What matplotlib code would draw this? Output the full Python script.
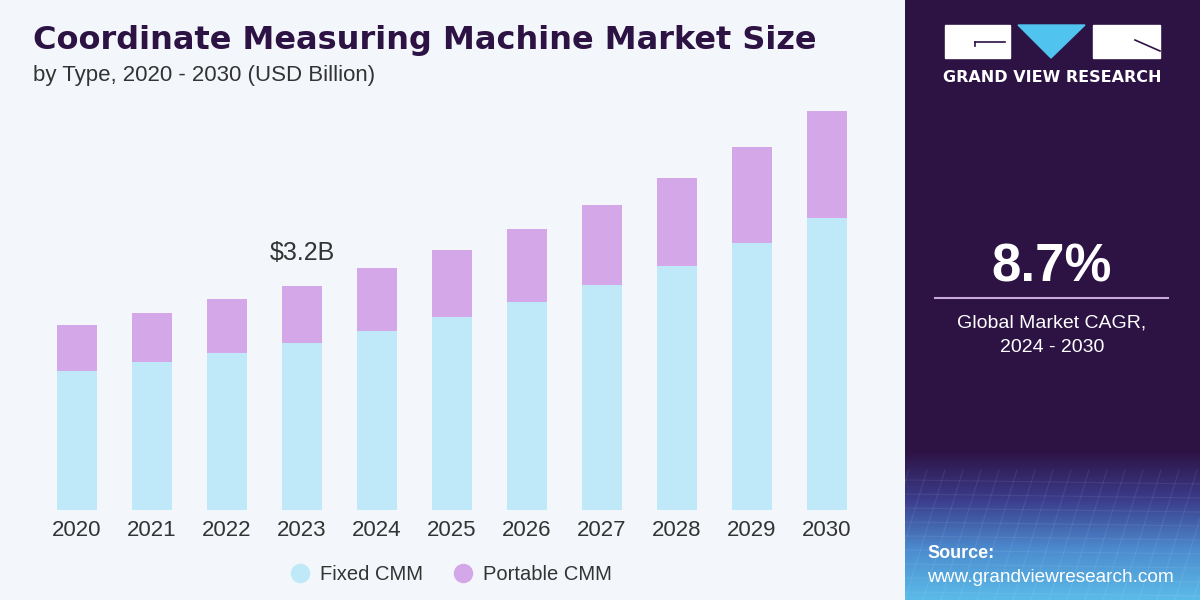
import matplotlib
matplotlib.use("Agg")
import matplotlib.pyplot as plt
import numpy as np
from matplotlib.patches import Rectangle, Polygon
from matplotlib.lines import Line2D
from matplotlib.colors import LinearSegmentedColormap

years = ["2020", "2021", "2022", "2023", "2024", "2025", "2026", "2027", "2028", "2029", "2030"]
fixed_cmm = [1.99, 2.11, 2.24, 2.39, 2.56, 2.76, 2.97, 3.21, 3.49, 3.81, 4.17]
portable_cmm = [0.65, 0.70, 0.77, 0.81, 0.90, 0.95, 1.04, 1.15, 1.25, 1.38, 1.53]
highlight_label = "$3.2B"
highlight_index = 3
cagr_text = "8.7%"

W, H = 1200, 600
fig = plt.figure(figsize=(12, 6), dpi=100)
bg = "#f3f7fb"
fig.patch.set_facecolor(bg)

def fx(px):
    return px / W

def fy(py):
    return 1 - py / H

# Right panel
panel = fig.add_axes([fx(905), 0, fx(295), 1])
panel.axis("off")
panel.add_patch(Rectangle((0, 0), 295, 600, color="#2d1244", zorder=0))
grad = np.linspace(0, 1, 200).reshape(-1, 1)
cmap = LinearSegmentedColormap.from_list("g", ["#2d1244", "#3b3d8c", "#4c8ccf", "#5bbbe8"])
panel.imshow(grad, cmap=cmap, extent=[0, 295, 600, 450], aspect="auto", zorder=1)
for k in range(-10, 30):
    panel.plot([k * 18, k * 18 + 40], [600, 470], color="white", alpha=0.08, lw=0.8, zorder=2)
for yy in range(480, 600, 14):
    panel.plot([0, 295], [yy, yy + 4], color="white", alpha=0.07, lw=0.8, zorder=2)
panel.set_xlim(0, 295)
panel.set_ylim(600, 0)

# Logo
panel.add_patch(Rectangle((40, 25), 65, 33, color="white", zorder=3))
panel.add_patch(Rectangle((188, 25), 67, 33, color="white", zorder=3))
panel.add_patch(Polygon([[113, 25], [180, 25], [146, 58]], closed=True, color="#50c3ef", zorder=3))
panel.plot([70, 100], [42, 42], color="#2d1244", lw=1.2, zorder=4)
panel.plot([70, 70], [42, 46], color="#2d1244", lw=1.2, zorder=4)
panel.plot([230, 255], [40, 51], color="#2d1244", lw=1.2, zorder=4)
panel.text(147.5, 78, "GRAND VIEW RESEARCH", color="white", fontsize=11.5, fontweight="bold",
           ha="center", va="center", family="DejaVu Sans", zorder=4)

panel.text(147, 268, cagr_text, color="white", fontsize=38, fontweight="bold",
           ha="center", va="center", family="Liberation Sans", zorder=4)
panel.plot([30, 263], [298, 298], color="#c9a8e0", lw=1.5, zorder=4)
panel.text(147, 323, "Global Market CAGR,", color="white", fontsize=14,
           ha="center", va="center", family="Liberation Sans", zorder=4)
panel.text(147, 348, "2024 - 2030", color="white", fontsize=14,
           ha="center", va="center", family="Liberation Sans", zorder=4)
panel.text(22, 553, "Source:", color="white", fontsize=13, fontweight="bold",
           ha="left", va="center", family="Liberation Sans", zorder=4)
panel.text(22, 577, "www.grandviewresearch.com", color="white", fontsize=13.7,
           ha="left", va="center", family="Liberation Sans", zorder=4)

# Titles
fig.text(fx(33), fy(40), "Coordinate Measuring Machine Market Size", color="#2d1244",
         fontsize=23, fontweight="bold", ha="left", va="center", family="DejaVu Sans")
fig.text(fx(33), fy(75), "by Type, 2020 - 2030 (USD Billion)", color="#333333",
         fontsize=16, ha="left", va="center", family="Liberation Sans")

# Bar chart axes: year 0 centre at x=77px, 75px per unit; baseline at y=510px, 70px per billion
left_px, right_px = 20, 880
ax = fig.add_axes([fx(left_px), 1 - 510 / H, fx(right_px - left_px), 410 / H])
ax.set_facecolor("none")
x = np.arange(len(years))
ax.bar(x, fixed_cmm, width=0.53, color="#bfe8f8", zorder=2)
ax.bar(x, portable_cmm, bottom=fixed_cmm, width=0.53, color="#d4a7e8", zorder=2)
ax.set_xlim((left_px - 77) / 75, (right_px - 77) / 75)
ax.set_ylim(0, 410 / 70)
for s in ax.spines.values():
    s.set_visible(False)
ax.set_yticks([])
ax.set_xticks(x)
ax.set_xticklabels(years, fontsize=16, color="#333333", family="Liberation Sans")
ax.tick_params(axis="x", length=0, pad=7)

total_h = fixed_cmm[highlight_index] + portable_cmm[highlight_index]
ax.annotate(highlight_label, (highlight_index, total_h), xytext=(0, 24), textcoords="offset points",
            ha="center", va="center", fontsize=18, color="#333333", family="Liberation Sans")

handles = [Line2D([], [], marker="o", ls="", markersize=13, color="#bfe8f8", label="Fixed CMM"),
           Line2D([], [], marker="o", ls="", markersize=13, color="#d4a7e8", label="Portable CMM")]
fig.legend(handles=handles, loc="center", bbox_to_anchor=(fx(446), fy(575)), ncol=2, frameon=False,
           prop={"family": "Liberation Sans", "size": 14.5}, handletextpad=0.0, columnspacing=1.0,
           labelcolor="#333333")

fig.savefig("out.png", dpi=100, facecolor=fig.get_facecolor())
